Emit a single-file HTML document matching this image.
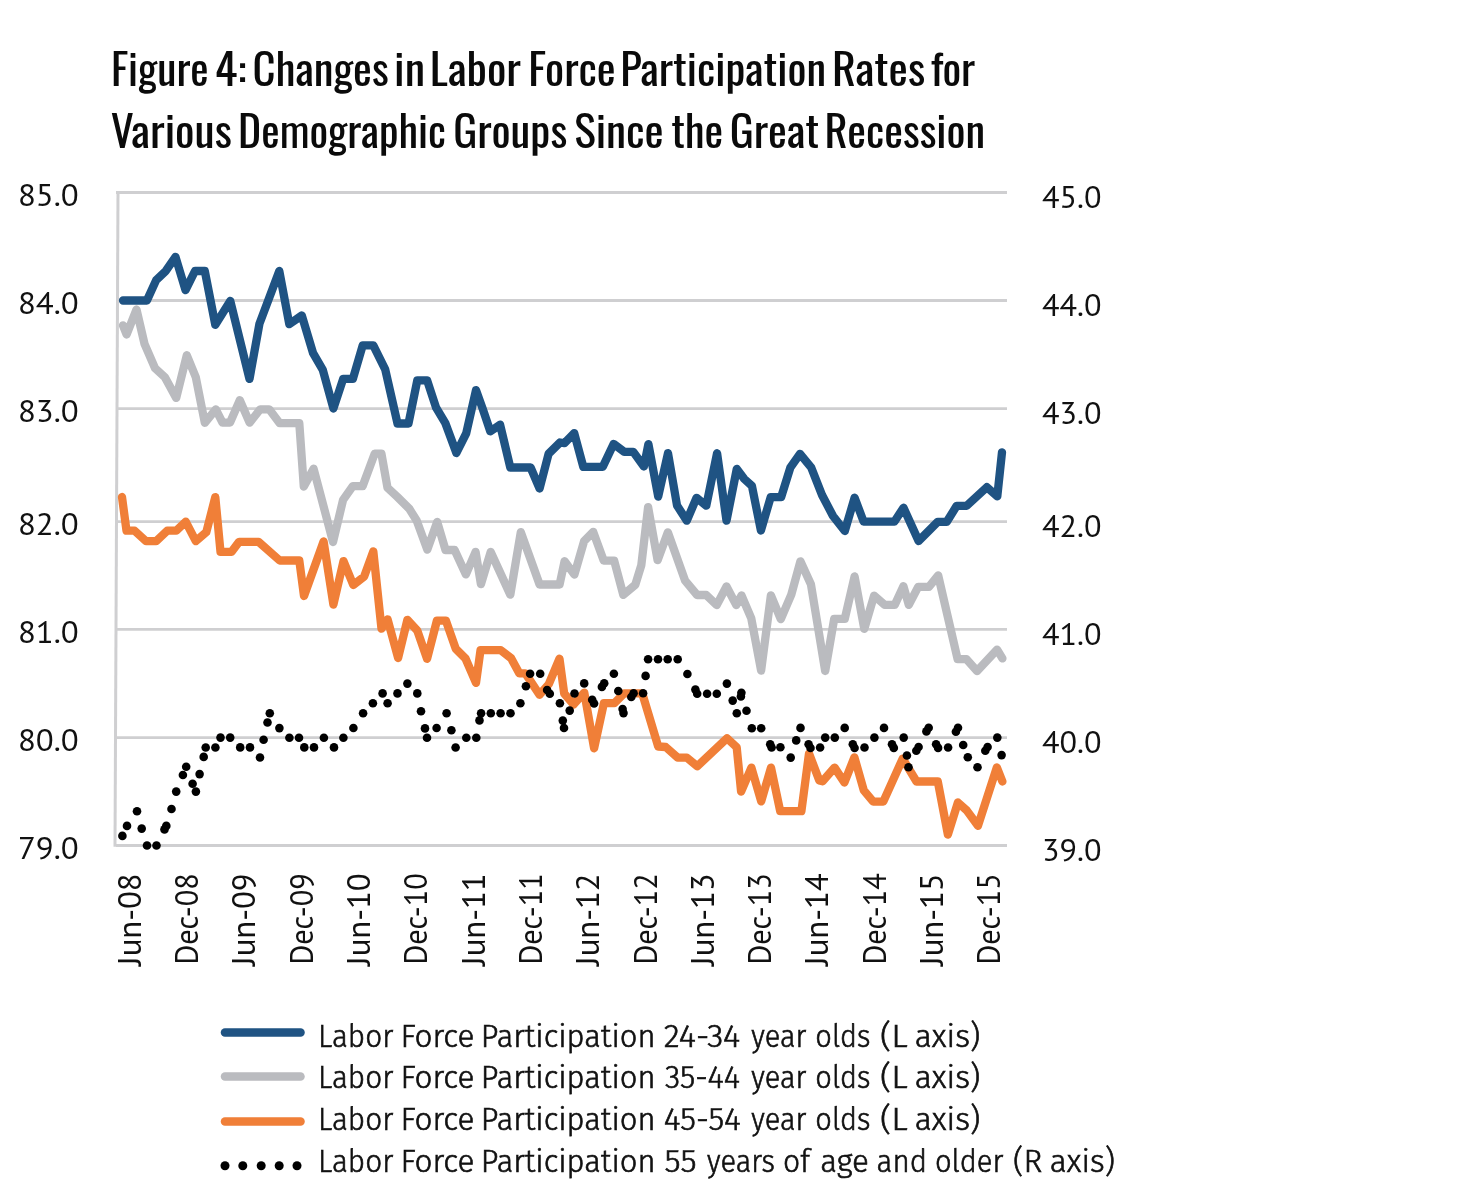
<!DOCTYPE html><html><head><meta charset="utf-8"><title>Figure 4</title><style>
html,body{margin:0;padding:0;background:#fff;}body{width:1480px;height:1196px;overflow:hidden;position:relative;}
svg{position:absolute;left:0;top:0;display:block;will-change:transform}
.t{font-family:"Oswald","Liberation Sans",sans-serif;font-weight:380;font-size:42.9px;fill:#0a0a0a}
.l{font-family:"Fira Sans","PT Sans","Liberation Sans",sans-serif;font-weight:300;fill:#111;stroke:#111;stroke-width:0.65px}.a,.x{font-family:"PT Sans","Fira Sans","Liberation Sans",sans-serif;fill:#111}.a{font-size:31.3px}.x{font-size:33px}
.l{font-size:31.4px}
</style></head><body>
<svg width="1480" height="1196" viewBox="0 0 1480 1196">
<text class="t" x="110.95" y="86.3" textLength="97.74" lengthAdjust="spacingAndGlyphs">Figure</text>
<text class="t" x="214.72" y="86.3" textLength="31.75" lengthAdjust="spacingAndGlyphs">4:</text>
<text class="t" x="252.51" y="86.3" textLength="136.21" lengthAdjust="spacingAndGlyphs">Changes</text>
<text class="t" x="394.07" y="86.3" textLength="30.90" lengthAdjust="spacingAndGlyphs">in</text>
<text class="t" x="429.81" y="86.3" textLength="91.19" lengthAdjust="spacingAndGlyphs">Labor</text>
<text class="t" x="528.16" y="86.3" textLength="87.53" lengthAdjust="spacingAndGlyphs">Force</text>
<text class="t" x="620.18" y="86.3" textLength="205.83" lengthAdjust="spacingAndGlyphs">Participation</text>
<text class="t" x="832.08" y="86.3" textLength="93.09" lengthAdjust="spacingAndGlyphs">Rates</text>
<text class="t" x="930.68" y="86.3" textLength="44.49" lengthAdjust="spacingAndGlyphs">for</text>
<text class="t" x="110.83" y="148.3" textLength="121.02" lengthAdjust="spacingAndGlyphs">Various</text>
<text class="t" x="238.14" y="148.3" textLength="207.81" lengthAdjust="spacingAndGlyphs">Demographic</text>
<text class="t" x="453.21" y="148.3" textLength="113.99" lengthAdjust="spacingAndGlyphs">Groups</text>
<text class="t" x="574.18" y="148.3" textLength="89.53" lengthAdjust="spacingAndGlyphs">Since</text>
<text class="t" x="671.16" y="148.3" textLength="52.14" lengthAdjust="spacingAndGlyphs">the</text>
<text class="t" x="729.81" y="148.3" textLength="89.32" lengthAdjust="spacingAndGlyphs">Great</text>
<text class="t" x="824.58" y="148.3" textLength="160.49" lengthAdjust="spacingAndGlyphs">Recession</text>
<line x1="116" y1="192.5" x2="1007" y2="192.5" stroke="#cfcfd1" stroke-width="2.8"/>
<line x1="116" y1="300.5" x2="1007" y2="300.5" stroke="#cfcfd1" stroke-width="2.8"/>
<line x1="116" y1="408.6" x2="1007" y2="408.6" stroke="#cfcfd1" stroke-width="2.8"/>
<line x1="116" y1="521.6" x2="1007" y2="521.6" stroke="#cfcfd1" stroke-width="2.8"/>
<line x1="116" y1="629.4" x2="1007" y2="629.4" stroke="#cfcfd1" stroke-width="2.8"/>
<line x1="116" y1="737.7" x2="1007" y2="737.7" stroke="#cfcfd1" stroke-width="2.8"/>
<line x1="116" y1="845.5" x2="1007" y2="845.5" stroke="#cfcfd1" stroke-width="2.8"/>
<line x1="118" y1="191.2" x2="115" y2="846.8" stroke="#cfcfd1" stroke-width="3"/>
<text class="a" x="78.7" y="206.0" text-anchor="end" textLength="60.8" lengthAdjust="spacingAndGlyphs">85.0</text>
<text class="a" x="78.7" y="314.0" text-anchor="end" textLength="60.8" lengthAdjust="spacingAndGlyphs">84.0</text>
<text class="a" x="78.7" y="422.1" text-anchor="end" textLength="60.8" lengthAdjust="spacingAndGlyphs">83.0</text>
<text class="a" x="78.7" y="535.1" text-anchor="end" textLength="60.8" lengthAdjust="spacingAndGlyphs">82.0</text>
<text class="a" x="78.7" y="642.9" text-anchor="end" textLength="60.8" lengthAdjust="spacingAndGlyphs">81.0</text>
<text class="a" x="78.7" y="751.2" text-anchor="end" textLength="60.8" lengthAdjust="spacingAndGlyphs">80.0</text>
<text class="a" x="78.7" y="859.0" text-anchor="end" textLength="60.8" lengthAdjust="spacingAndGlyphs">79.0</text>
<text class="a" x="1042" y="207.9" textLength="59.5" lengthAdjust="spacingAndGlyphs">45.0</text>
<text class="a" x="1042" y="315.9" textLength="59.5" lengthAdjust="spacingAndGlyphs">44.0</text>
<text class="a" x="1042" y="424.0" textLength="59.5" lengthAdjust="spacingAndGlyphs">43.0</text>
<text class="a" x="1042" y="537.0" textLength="59.5" lengthAdjust="spacingAndGlyphs">42.0</text>
<text class="a" x="1042" y="644.8" textLength="59.5" lengthAdjust="spacingAndGlyphs">41.0</text>
<text class="a" x="1042" y="753.1" textLength="59.5" lengthAdjust="spacingAndGlyphs">40.0</text>
<text class="a" x="1042" y="860.9" textLength="59.5" lengthAdjust="spacingAndGlyphs">39.0</text>
<text class="x" transform="translate(140.8,873.3) rotate(-90)" text-anchor="end" textLength="92.6" lengthAdjust="spacingAndGlyphs">Jun-08</text>
<text class="x" transform="translate(198.1,873.3) rotate(-90)" text-anchor="end" textLength="91.2" lengthAdjust="spacingAndGlyphs">Dec-08</text>
<text class="x" transform="translate(255.4,873.3) rotate(-90)" text-anchor="end" textLength="92.6" lengthAdjust="spacingAndGlyphs">Jun-09</text>
<text class="x" transform="translate(312.7,873.3) rotate(-90)" text-anchor="end" textLength="91.2" lengthAdjust="spacingAndGlyphs">Dec-09</text>
<text class="x" transform="translate(370.0,873.3) rotate(-90)" text-anchor="end" textLength="92.6" lengthAdjust="spacingAndGlyphs">Jun-10</text>
<text class="x" transform="translate(427.3,873.3) rotate(-90)" text-anchor="end" textLength="91.2" lengthAdjust="spacingAndGlyphs">Dec-10</text>
<text class="x" transform="translate(484.6,873.3) rotate(-90)" text-anchor="end" textLength="92.6" lengthAdjust="spacingAndGlyphs">Jun-11</text>
<text class="x" transform="translate(541.9,873.3) rotate(-90)" text-anchor="end" textLength="91.2" lengthAdjust="spacingAndGlyphs">Dec-11</text>
<text class="x" transform="translate(599.2,873.3) rotate(-90)" text-anchor="end" textLength="92.6" lengthAdjust="spacingAndGlyphs">Jun-12</text>
<text class="x" transform="translate(656.5,873.3) rotate(-90)" text-anchor="end" textLength="91.2" lengthAdjust="spacingAndGlyphs">Dec-12</text>
<text class="x" transform="translate(713.8,873.3) rotate(-90)" text-anchor="end" textLength="92.6" lengthAdjust="spacingAndGlyphs">Jun-13</text>
<text class="x" transform="translate(771.1,873.3) rotate(-90)" text-anchor="end" textLength="91.2" lengthAdjust="spacingAndGlyphs">Dec-13</text>
<text class="x" transform="translate(828.4,873.3) rotate(-90)" text-anchor="end" textLength="92.6" lengthAdjust="spacingAndGlyphs">Jun-14</text>
<text class="x" transform="translate(885.7,873.3) rotate(-90)" text-anchor="end" textLength="91.2" lengthAdjust="spacingAndGlyphs">Dec-14</text>
<text class="x" transform="translate(943.0,873.3) rotate(-90)" text-anchor="end" textLength="92.6" lengthAdjust="spacingAndGlyphs">Jun-15</text>
<text class="x" transform="translate(1000.3,873.3) rotate(-90)" text-anchor="end" textLength="91.2" lengthAdjust="spacingAndGlyphs">Dec-15</text>
<clipPath id="pc"><rect x="117" y="150" width="900" height="720"/></clipPath>
<g clip-path="url(#pc)" fill="none" stroke-linejoin="round" stroke-linecap="round">
<polyline points="123.0,300.5 146.9,300.5 156.3,279.9 165.8,270.9 175.5,256.9 185.5,290.1 195.0,271.0 204.8,271.0 215.3,324.9 230.3,300.9 249.5,378.9 259.4,323.9 279.3,271.0 289.3,324.2 301.8,315.5 313.1,353.2 322.8,369.8 333.4,408.5 343.2,378.8 352.9,378.8 362.7,345.4 373.3,345.4 385.2,369.3 397.5,423.5 408.5,423.5 417.3,380.3 427.1,380.3 436.1,407.7 445.2,422.8 456.4,453.0 466.2,433.3 476.0,390.1 482.8,409.2 490.3,431.4 500.1,424.7 510.3,467.5 530.6,467.5 539.6,488.5 548.6,453.8 560.0,442.5 564.5,443.2 574.2,433.1 583.3,466.8 602.8,466.8 613.6,443.9 624.3,451.9 633.3,451.9 643.9,466.5 648.4,444.1 658.2,496.6 668.0,453.1 677.0,505.4 686.8,520.7 696.5,497.8 706.3,505.7 717.1,453.2 726.5,520.7 736.8,468.9 744.3,479.0 751.9,485.8 760.9,530.5 770.7,497.1 781.2,497.1 790.3,467.7 800.0,453.9 811.3,467.7 822.0,495.0 833.0,516.0 844.8,531.0 854.6,497.7 863.6,521.6 894.5,521.6 903.5,507.7 918.6,541.0 937.8,521.8 946.8,521.8 956.7,505.8 966.7,505.8 986.8,487.2 997.3,496.3 1002.0,452.3" stroke="#1f5383" stroke-width="8.3"/>
<polyline points="123.0,325.4 126.6,334.5 136.5,309.5 144.6,344.2 155.1,368.3 164.9,377.3 176.2,397.9 186.8,355.2 195.8,377.3 204.8,422.8 215.8,409.4 222.5,422.7 230.0,422.7 239.8,400.2 249.6,422.7 260.2,409.3 269.2,409.3 279.7,423.2 299.3,423.2 303.8,486.6 313.6,468.7 333.0,542.0 343.1,499.8 352.8,486.2 362.6,486.2 374.7,453.6 381.4,453.6 387.5,487.7 397.2,496.8 409.3,508.8 416.8,520.8 427.3,549.7 437.2,521.9 445.5,550.0 454.6,550.0 465.9,574.4 475.6,551.9 480.9,584.2 490.7,551.9 510.3,594.7 520.8,532.1 539.6,584.5 559.6,584.5 564.6,561.2 574.4,574.6 584.1,541.2 593.2,531.8 603.7,560.7 614.2,560.7 623.3,594.9 635.3,584.8 641.3,565.3 648.1,507.1 657.6,560.2 667.9,532.3 685.1,580.7 697.1,595.0 706.2,595.0 716.7,605.1 726.5,586.5 736.3,605.1 741.5,595.5 751.3,618.4 761.1,670.6 770.9,595.4 780.8,619.1 791.3,594.7 800.4,561.3 810.9,584.2 825.2,671.0 834.2,618.8 844.8,618.8 854.6,576.4 864.3,628.9 874.1,595.7 884.7,604.9 894.7,604.9 903.4,586.2 908.8,604.9 918.2,586.8 928.9,586.8 938.2,575.5 957.6,659.1 966.3,659.1 977.0,671.1 997.1,649.7 1002.4,658.4" stroke="#babbbf" stroke-width="8.3"/>
<polyline points="122.0,497.0 126.5,530.7 134.6,530.7 146.1,541.2 156.1,541.2 167.2,530.7 176.2,530.7 185.7,521.7 195.8,541.2 206.3,532.2 215.3,497.1 220.5,551.8 231.6,551.8 239.1,541.8 258.6,541.8 279.7,560.5 299.3,560.5 304.0,596.0 323.6,541.5 333.4,604.6 343.5,561.1 353.3,585.0 364.2,576.4 373.3,551.3 381.5,628.7 387.6,619.3 398.1,658.0 407.4,619.8 417.3,630.6 427.1,658.8 436.9,620.6 445.9,620.6 455.7,648.7 465.5,658.5 476.0,682.9 480.5,650.2 500.8,650.2 511.0,658.1 519.4,673.4 525.4,673.4 539.5,694.8 548.8,684.1 559.5,658.7 564.2,693.5 573.6,704.5 584.3,692.6 594.1,748.3 603.9,703.1 614.4,703.1 624.2,693.3 642.2,693.3 658.2,746.5 665.7,747.0 677.7,757.6 686.8,757.6 697.3,766.2 727.0,738.3 736.7,747.3 741.1,791.6 751.4,767.6 761.2,801.4 771.0,767.6 780.2,811.2 801.4,811.2 809.0,753.5 819.3,780.4 822.6,781.3 834.6,767.6 844.4,782.5 854.4,757.3 863.8,790.3 873.2,801.6 883.3,801.6 902.7,758.6 916.5,781.5 937.8,781.5 947.9,834.6 957.9,802.5 966.7,810.4 978.0,825.8 996.8,767.4 1002.4,781.5" stroke="#f07f38" stroke-width="8.3"/>
</g>
<g fill="#000"><circle cx="122.4" cy="835.9" r="4.3"/><circle cx="127" cy="825.9" r="4.3"/><circle cx="137" cy="811.3" r="4.3"/><circle cx="141.7" cy="828.6" r="4.3"/><circle cx="147" cy="845.5" r="4.3"/><circle cx="156.5" cy="845.5" r="4.3"/><circle cx="164.5" cy="829.4" r="4.3"/><circle cx="166.3" cy="825.9" r="4.3"/><circle cx="171.5" cy="809" r="4.3"/><circle cx="176.2" cy="791.6" r="4.3"/><circle cx="182.9" cy="775" r="4.3"/><circle cx="186.2" cy="766.8" r="4.3"/><circle cx="192.6" cy="783.8" r="4.3"/><circle cx="195.9" cy="791.6" r="4.3"/><circle cx="199.6" cy="774.1" r="4.3"/><circle cx="203.7" cy="756.9" r="4.3"/><circle cx="205.7" cy="747.5" r="4.3"/><circle cx="215.4" cy="747.5" r="4.3"/><circle cx="220.5" cy="737.6" r="4.3"/><circle cx="230.2" cy="737.6" r="4.3"/><circle cx="240.2" cy="747.4" r="4.3"/><circle cx="250" cy="747.4" r="4.3"/><circle cx="260" cy="757.5" r="4.3"/><circle cx="263.6" cy="739.8" r="4.3"/><circle cx="267.5" cy="722.5" r="4.3"/><circle cx="269.8" cy="713.2" r="4.3"/><circle cx="279.4" cy="728.1" r="4.3"/><circle cx="289.4" cy="737.7" r="4.3"/><circle cx="299" cy="737.7" r="4.3"/><circle cx="304.3" cy="747.4" r="4.3"/><circle cx="314" cy="747.4" r="4.3"/><circle cx="323.9" cy="737.7" r="4.3"/><circle cx="334" cy="747.4" r="4.3"/><circle cx="343.4" cy="737.7" r="4.3"/><circle cx="353.4" cy="728" r="4.3"/><circle cx="363.1" cy="713.3" r="4.3"/><circle cx="372.9" cy="703.3" r="4.3"/><circle cx="382.6" cy="693.4" r="4.3"/><circle cx="387.6" cy="703.3" r="4.3"/><circle cx="397.5" cy="693.4" r="4.3"/><circle cx="407.4" cy="683.6" r="4.3"/><circle cx="417.3" cy="693.4" r="4.3"/><circle cx="421" cy="711.2" r="4.3"/><circle cx="425" cy="728.4" r="4.3"/><circle cx="427" cy="737.8" r="4.3"/><circle cx="436.6" cy="728" r="4.3"/><circle cx="446.6" cy="713.3" r="4.3"/><circle cx="451.4" cy="730.2" r="4.3"/><circle cx="455.6" cy="747.5" r="4.3"/><circle cx="466.3" cy="737.8" r="4.3"/><circle cx="476.3" cy="737.8" r="4.3"/><circle cx="479.5" cy="720.4" r="4.3"/><circle cx="481.1" cy="713.3" r="4.3"/><circle cx="490.8" cy="713.3" r="4.3"/><circle cx="500.6" cy="713.3" r="4.3"/><circle cx="510.5" cy="713.3" r="4.3"/><circle cx="520.4" cy="703.3" r="4.3"/><circle cx="525.9" cy="686.3" r="4.3"/><circle cx="530.1" cy="673.7" r="4.3"/><circle cx="540.2" cy="673.7" r="4.3"/><circle cx="547.1" cy="690" r="4.3"/><circle cx="549.8" cy="693.7" r="4.3"/><circle cx="559.9" cy="703.3" r="4.3"/><circle cx="562.8" cy="720.6" r="4.3"/><circle cx="564" cy="728" r="4.3"/><circle cx="569.7" cy="710.6" r="4.3"/><circle cx="574.5" cy="693.5" r="4.3"/><circle cx="584.2" cy="683.4" r="4.3"/><circle cx="592.2" cy="699.8" r="4.3"/><circle cx="594.1" cy="703.5" r="4.3"/><circle cx="601.9" cy="686.9" r="4.3"/><circle cx="604.2" cy="683.2" r="4.3"/><circle cx="613.9" cy="673.8" r="4.3"/><circle cx="618.3" cy="691" r="4.3"/><circle cx="622.6" cy="709" r="4.3"/><circle cx="623.5" cy="713.1" r="4.3"/><circle cx="631.3" cy="697" r="4.3"/><circle cx="633.6" cy="693.3" r="4.3"/><circle cx="643.1" cy="693.3" r="4.3"/><circle cx="645.6" cy="675.9" r="4.3"/><circle cx="648.1" cy="659.3" r="4.3"/><circle cx="658" cy="659.3" r="4.3"/><circle cx="667.7" cy="659.3" r="4.3"/><circle cx="677.7" cy="659.3" r="4.3"/><circle cx="687.4" cy="674" r="4.3"/><circle cx="695.4" cy="689.6" r="4.3"/><circle cx="697.2" cy="693.7" r="4.3"/><circle cx="707.1" cy="693.7" r="4.3"/><circle cx="716.8" cy="693.7" r="4.3"/><circle cx="726.9" cy="683.6" r="4.3"/><circle cx="732.7" cy="700.6" r="4.3"/><circle cx="736.8" cy="713.2" r="4.3"/><circle cx="740.9" cy="696.5" r="4.3"/><circle cx="741.4" cy="692.8" r="4.3"/><circle cx="746.5" cy="710.8" r="4.3"/><circle cx="751.8" cy="728.2" r="4.3"/><circle cx="761.2" cy="728.2" r="4.3"/><circle cx="770.2" cy="744.3" r="4.3"/><circle cx="771.6" cy="747.5" r="4.3"/><circle cx="780.4" cy="747.3" r="4.3"/><circle cx="790.7" cy="757.6" r="4.3"/><circle cx="796.2" cy="740.4" r="4.3"/><circle cx="800.5" cy="727.9" r="4.3"/><circle cx="808.6" cy="744.3" r="4.3"/><circle cx="810.5" cy="748" r="4.3"/><circle cx="820.1" cy="747.5" r="4.3"/><circle cx="825.2" cy="737.6" r="4.3"/><circle cx="834.8" cy="737.6" r="4.3"/><circle cx="844.7" cy="727.9" r="4.3"/><circle cx="852.8" cy="744.3" r="4.3"/><circle cx="854.6" cy="748" r="4.3"/><circle cx="864.5" cy="747.5" r="4.3"/><circle cx="874.4" cy="737.6" r="4.3"/><circle cx="884" cy="727.9" r="4.3"/><circle cx="892" cy="744.3" r="4.3"/><circle cx="893.8" cy="747.9" r="4.3"/><circle cx="903.7" cy="737.6" r="4.3"/><circle cx="906.9" cy="755.5" r="4.3"/><circle cx="908.5" cy="767.3" r="4.3"/><circle cx="916.3" cy="750.7" r="4.3"/><circle cx="918.6" cy="747" r="4.3"/><circle cx="926.4" cy="731.4" r="4.3"/><circle cx="928.7" cy="727.7" r="4.3"/><circle cx="936.1" cy="744.3" r="4.3"/><circle cx="938.1" cy="747.9" r="4.3"/><circle cx="948.1" cy="747.5" r="4.3"/><circle cx="955.9" cy="731.8" r="4.3"/><circle cx="958" cy="727.7" r="4.3"/><circle cx="963.2" cy="745" r="4.3"/><circle cx="967.8" cy="757.3" r="4.3"/><circle cx="977.5" cy="767.3" r="4.3"/><circle cx="985.3" cy="750.7" r="4.3"/><circle cx="987.6" cy="747" r="4.3"/><circle cx="997.3" cy="737.6" r="4.3"/><circle cx="1001.6" cy="755.1" r="4.3"/></g>
<line x1="225" y1="1032.6" x2="300.5" y2="1032.6" stroke="#1f5383" stroke-width="8.5" stroke-linecap="round"/>
<line x1="225" y1="1076.5" x2="300.5" y2="1076.5" stroke="#babbbf" stroke-width="8.5" stroke-linecap="round"/>
<line x1="225" y1="1121.4" x2="300.5" y2="1121.4" stroke="#f07f38" stroke-width="8.5" stroke-linecap="round"/>
<g fill="#000"><circle cx="225" cy="1165.8" r="4.5"/><circle cx="242.8" cy="1165.8" r="4.5"/><circle cx="261.2" cy="1165.8" r="4.5"/><circle cx="279.2" cy="1165.8" r="4.5"/><circle cx="297" cy="1165.8" r="4.5"/></g>
<text class="l" x="318.06" y="1046.5" textLength="75.18" lengthAdjust="spacingAndGlyphs">Labor</text>
<text class="l" x="400.49" y="1046.5" textLength="73.93" lengthAdjust="spacingAndGlyphs">Force</text>
<text class="l" x="480.84" y="1046.5" textLength="174.69" lengthAdjust="spacingAndGlyphs">Participation</text>
<text class="l" x="663.85" y="1046.5" textLength="76.33" lengthAdjust="spacingAndGlyphs">24-34</text>
<text class="l" x="751.20" y="1046.5" textLength="55.01" lengthAdjust="spacingAndGlyphs">year</text>
<text class="l" x="815.35" y="1046.5" textLength="55.15" lengthAdjust="spacingAndGlyphs">olds</text>
<text class="l" x="880.00" y="1046.5" textLength="27.57" lengthAdjust="spacingAndGlyphs">(L</text>
<text class="l" x="914.77" y="1046.5" textLength="65.51" lengthAdjust="spacingAndGlyphs">axis)</text>
<text class="l" x="318.06" y="1088.4" textLength="75.18" lengthAdjust="spacingAndGlyphs">Labor</text>
<text class="l" x="400.49" y="1088.4" textLength="73.93" lengthAdjust="spacingAndGlyphs">Force</text>
<text class="l" x="480.84" y="1088.4" textLength="174.69" lengthAdjust="spacingAndGlyphs">Participation</text>
<text class="l" x="664.90" y="1088.4" textLength="75.14" lengthAdjust="spacingAndGlyphs">35-44</text>
<text class="l" x="751.20" y="1088.4" textLength="55.01" lengthAdjust="spacingAndGlyphs">year</text>
<text class="l" x="815.35" y="1088.4" textLength="55.15" lengthAdjust="spacingAndGlyphs">olds</text>
<text class="l" x="880.00" y="1088.4" textLength="27.57" lengthAdjust="spacingAndGlyphs">(L</text>
<text class="l" x="914.77" y="1088.4" textLength="65.51" lengthAdjust="spacingAndGlyphs">axis)</text>
<text class="l" x="318.06" y="1130.3" textLength="75.18" lengthAdjust="spacingAndGlyphs">Labor</text>
<text class="l" x="400.49" y="1130.3" textLength="73.93" lengthAdjust="spacingAndGlyphs">Force</text>
<text class="l" x="480.84" y="1130.3" textLength="174.69" lengthAdjust="spacingAndGlyphs">Participation</text>
<text class="l" x="663.88" y="1130.3" textLength="76.91" lengthAdjust="spacingAndGlyphs">45-54</text>
<text class="l" x="751.20" y="1130.3" textLength="55.01" lengthAdjust="spacingAndGlyphs">year</text>
<text class="l" x="815.35" y="1130.3" textLength="55.15" lengthAdjust="spacingAndGlyphs">olds</text>
<text class="l" x="880.00" y="1130.3" textLength="27.57" lengthAdjust="spacingAndGlyphs">(L</text>
<text class="l" x="914.77" y="1130.3" textLength="65.51" lengthAdjust="spacingAndGlyphs">axis)</text>
<text class="l" x="318.06" y="1172.2" textLength="75.18" lengthAdjust="spacingAndGlyphs">Labor</text>
<text class="l" x="400.49" y="1172.2" textLength="73.93" lengthAdjust="spacingAndGlyphs">Force</text>
<text class="l" x="480.84" y="1172.2" textLength="174.69" lengthAdjust="spacingAndGlyphs">Participation</text>
<text class="l" x="664.45" y="1172.2" textLength="32.05" lengthAdjust="spacingAndGlyphs">55</text>
<text class="l" x="707.10" y="1172.2" textLength="67.96" lengthAdjust="spacingAndGlyphs">years</text>
<text class="l" x="783.09" y="1172.2" textLength="26.81" lengthAdjust="spacingAndGlyphs">of</text>
<text class="l" x="820.20" y="1172.2" textLength="48.61" lengthAdjust="spacingAndGlyphs">age</text>
<text class="l" x="876.62" y="1172.2" textLength="50.36" lengthAdjust="spacingAndGlyphs">and</text>
<text class="l" x="934.94" y="1172.2" textLength="68.41" lengthAdjust="spacingAndGlyphs">older</text>
<text class="l" x="1013.09" y="1172.2" textLength="29.13" lengthAdjust="spacingAndGlyphs">(R</text>
<text class="l" x="1049.88" y="1172.2" textLength="65.09" lengthAdjust="spacingAndGlyphs">axis)</text>
</svg></body></html>
